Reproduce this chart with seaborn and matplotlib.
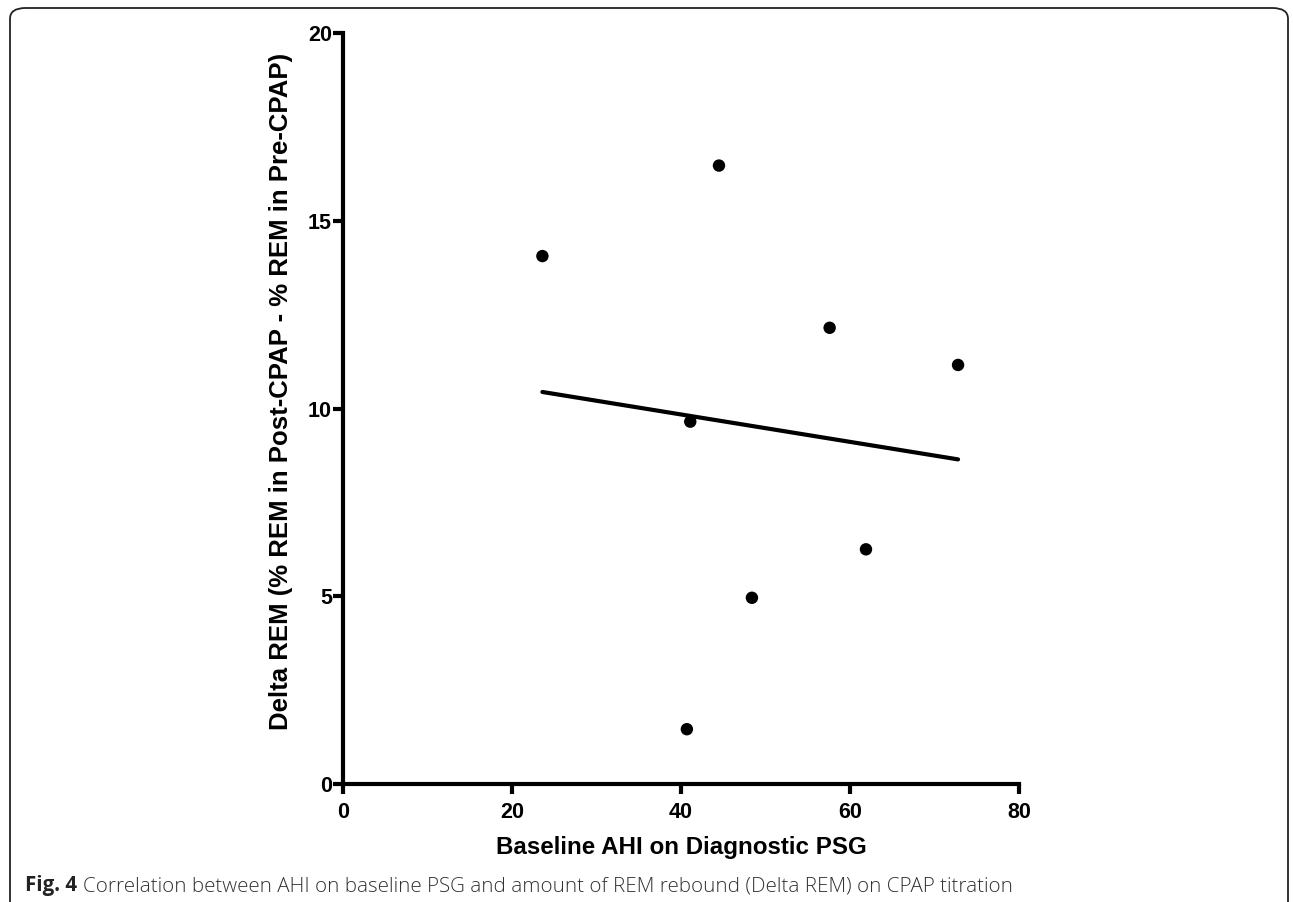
import numpy as np
import pandas as pd
import seaborn as sns
import matplotlib.pyplot as plt
from matplotlib.patches import FancyBboxPatch

# values
baseline_ahi = [23.6, 44.5, 57.6, 72.8, 61.9, 48.4, 40.7, 41.1]
delta_rem = [14.06, 16.47, 12.15, 11.16, 6.25, 4.96, 1.46, 9.65]
x_ticks = [0, 20, 40, 60, 80]
y_ticks = [0, 5, 10, 15, 20]

df = pd.DataFrame({"ahi": baseline_ahi, "rem": delta_rem})

sns.set_style("ticks", {"axes.edgecolor": "black", "text.color": "black",
                        "axes.labelcolor": "black", "xtick.color": "black",
                        "ytick.color": "black"})
plt.rcParams['font.family'] = ['Liberation Sans', 'DejaVu Sans']

fig = plt.figure(figsize=(12.93, 9.02), dpi=100)
ax = fig.add_axes([0.2653, 0.1308, 0.5227, 0.8326])

sns.regplot(data=df, x="ahi", y="rem", ci=None, ax=ax,
            scatter_kws=dict(s=80, color="black", alpha=1, edgecolor="none",
                             clip_on=False, zorder=3),
            line_kws=dict(color="black", lw=3.0, solid_capstyle="round"))

ax.set_xlim(0, 80)
ax.set_ylim(0, 20)
ax.set_xticks(x_ticks)
ax.set_yticks(y_ticks)
sns.despine(ax=ax)
for s in ["left", "bottom"]:
    ax.spines[s].set_linewidth(3.0)
    ax.spines[s].set_color("black")
    ax.spines[s].set_capstyle("projecting")
ax.tick_params(width=3.0, length=7, labelsize=15.5, color="black", labelcolor="black")
ax.tick_params(axis="x", pad=6)
ax.tick_params(axis="y", pad=1)
for lab in ax.get_xticklabels() + ax.get_yticklabels():
    lab.set_fontweight("bold")

ax.set_xlabel("Baseline AHI on Diagnostic PSG", fontsize=17.4, fontweight="bold",
              labelpad=9, color="black")
ax.set_ylabel("Delta REM (% REM in Post-CPAP - % REM in Pre-CPAP)", fontsize=18.5,
              fontweight="bold", family=['Liberation Sans Narrow', 'Liberation Sans'],
              color="black")
ax.yaxis.set_label_coords(-0.074, 0.523)

# frame around the figure panel (bottom edge runs off the image)
box = FancyBboxPatch((10 / 1293, -0.05), 1278 / 1293, 0.05 + (902 - 8) / 902,
                     boxstyle="round,pad=0,rounding_size=0.012",
                     transform=fig.transFigure, fill=False, edgecolor="#222222",
                     lw=1.3, clip_on=False)
fig.patches.append(box)

# caption
cap_y = 1 - 886 / 902
t1 = fig.text(25 / 1293, cap_y, "Fig. 4", fontsize=14.8, fontweight="bold",
              family=['Open Sans', 'DejaVu Sans'], color="#222222", va="center")
fig.canvas.draw()
bb = t1.get_window_extent()
x2 = (bb.x1 + 6) / fig.bbox.width
fig.text(x2, cap_y, "Correlation between AHI on baseline PSG and amount of REM rebound (Delta REM) on CPAP titration",
         fontsize=14.8, fontweight="light", family=['Open Sans', 'DejaVu Sans'],
         color="#333333", va="center")

fig.savefig("out.png", dpi=100)
